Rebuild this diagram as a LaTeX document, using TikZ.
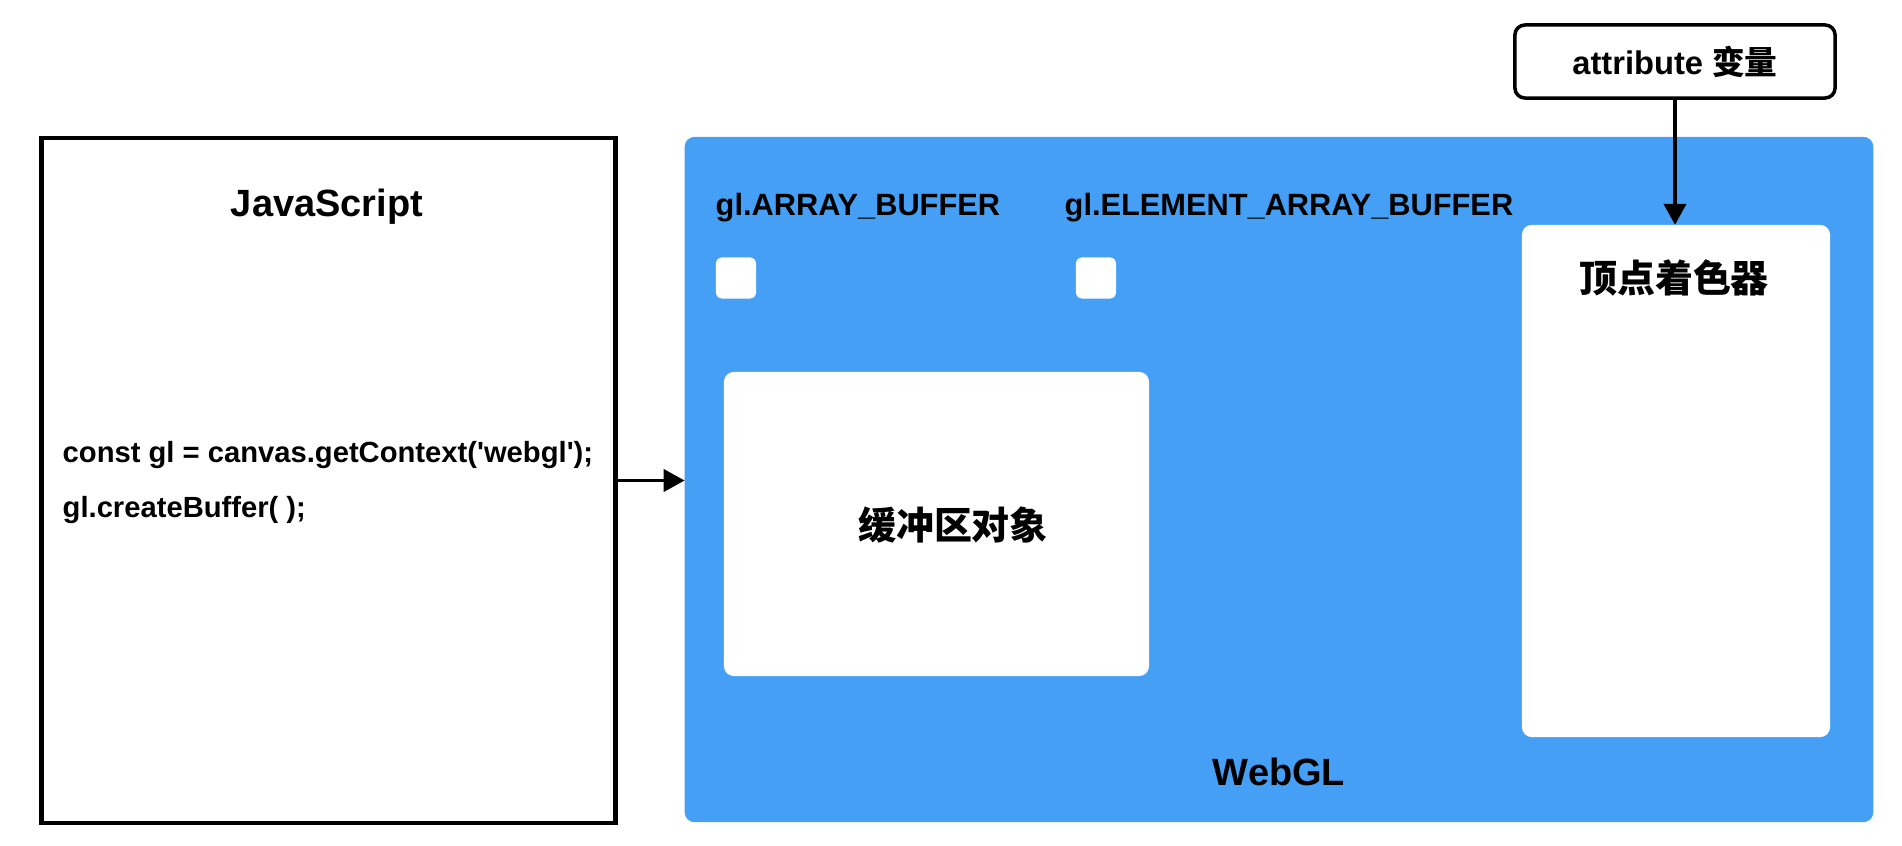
\documentclass[tikz,border=0pt]{standalone}
\usepackage{fontspec}
\setmainfont{Liberation Sans}
\newfontfamily\cjk{Noto Sans CJK SC}
\usepackage{xcolor}
\usetikzlibrary{positioning}
\usetikzlibrary{arrows.meta}
\definecolor{glblue}{RGB}{69,160,245}

\begin{document}
\begin{tikzpicture}[x = 0.01cm, y = -0.01cm,
		box/.style = {rectangle, inner sep = 0, outer sep = 0},
		panel/.style = {box, fill = white, rounded corners = 0.1cm},
		arr/.style = {line width = 1.1pt, -{Triangle[length = 0.21cm, width = 0.22cm]}},
		big/.style = {inner sep = 0, font = \bfseries\fontsize{10.8}{13}\selectfont},
		small/.style = {inner sep = 0, font = \bfseries\fontsize{8.3}{10}\selectfont},
		buflabel/.style = {inner sep = 0, anchor = base west, font = \bfseries\fontsize{8.75}{10}\selectfont}]
		\useasboundingbox (0, 0) rectangle (1902, 846);

		\node [box, draw, line width = 1.3pt, minimum width = 5.74cm, minimum height = 6.85cm] (js) at (328.5, 480.5) {};
		\node [big, anchor = base] (jstitle) at (327, 217) {JavaScript};
		\node [small, anchor = base west] (code1) at (62, 463) {const gl = canvas.getContext(\textquotesingle webgl\textquotesingle);};
		\node [small, anchor = base west] (code2) at (62, 518) {gl.createBuffer( );};

		\node [box, fill = glblue, rounded corners = 0.1cm, minimum width = 11.88cm, minimum height = 6.85cm] (webgl) at (1279, 479.5) {};
		\node [buflabel] (arraylabel) at (715, 216) {gl.ARRAY\_BUFFER};
		\node [buflabel] (elemlabel) at (1064, 216) {gl.ELEMENT\_ARRAY\_BUFFER};
		\node [panel, rounded corners = 0.06cm, minimum width = 0.4cm, minimum height = 0.41cm] (arrayslot) at (736, 278) {};
		\node [panel, rounded corners = 0.06cm, minimum width = 0.4cm, minimum height = 0.41cm] (elemslot) at (1096, 278) {};

		\node [panel, minimum width = 4.25cm, minimum height = 3.04cm] (buffer) at (936.5, 524) {};
		\node [big] (buftext) at (953, 525) {\cjk 缓冲区对象};

		\node [panel, minimum width = 3.08cm, minimum height = 5.12cm] (shader) at (1676, 481) {};
		\node [big] (shadertext) at (1674, 278) {\cjk 顶点着色器};

		\node [big, anchor = base] (webgltext) at (1279, 786) {WebGL};

		\node [box, draw, line width = 1pt, rounded corners = 0.1cm, minimum width = 3.2cm, minimum height = 0.73cm, font = \bfseries\fontsize{9.3}{11}\selectfont] (attr) at (1675, 61.5) {attribute {\cjk 变量}};

		\draw [arr] (js.east) -- (js.east -| webgl.west);
		\draw [arr] (attr.south) -- (attr.south |- shader.north);
	\end{tikzpicture}
\end{document}
